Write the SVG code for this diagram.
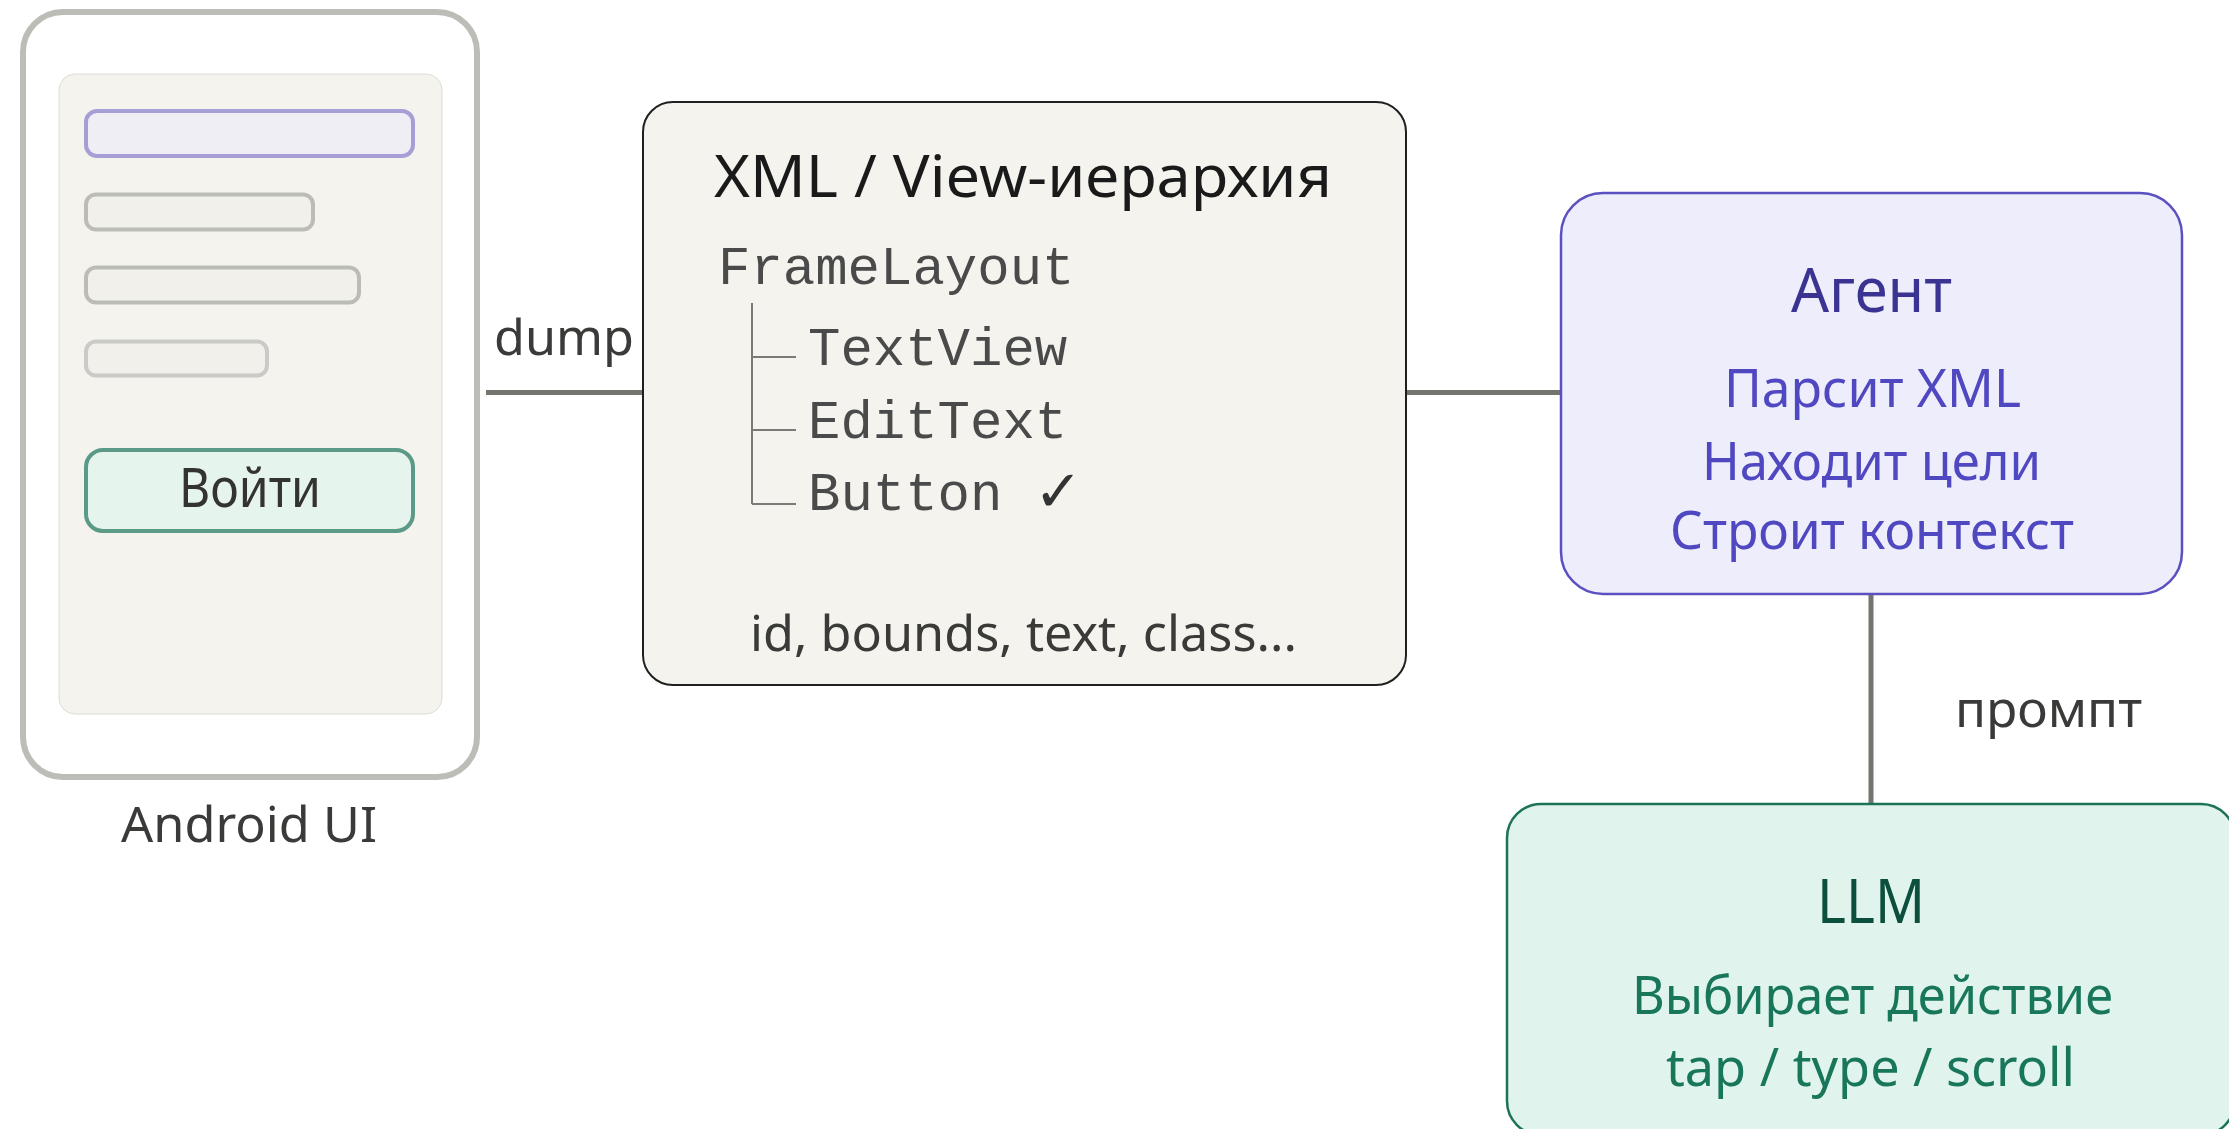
<svg xmlns="http://www.w3.org/2000/svg" width="2229" height="1129" viewBox="0 0 2229 1129">
  <style>
    .sans { font-family: "Noto Sans", "Open Sans", "DejaVu Sans", sans-serif; }
    .mono { font-family: "Courier New", "Liberation Mono", "DejaVu Sans Mono", monospace; font-size: 54px; fill: #4a4a4a; }
    .label { font-size: 50px; fill: #3a3a38; }
    .bar { fill: #f1f0ea; stroke: #bcbcb7; stroke-width: 4; }
    .wire { stroke: #75746e; stroke-width: 5; fill: none; }
    .tree { stroke: #7a7a78; stroke-width: 2; fill: none; }
  </style>

  <rect width="2229" height="1129" fill="#ffffff"/>

  <!-- connectors -->
  <g id="connectors">
    <line class="wire" x1="486" y1="392.5" x2="643" y2="392.5"/>
    <line class="wire" x1="1406" y1="392.5" x2="1561" y2="392.5"/>
    <line class="wire" x1="1871" y1="594" x2="1871" y2="804"/>
    <text class="sans label" x="494" y="355" textLength="140" lengthAdjust="spacingAndGlyphs">dump</text>
    <text class="sans label" x="1955" y="727" textLength="187" lengthAdjust="spacingAndGlyphs">промпт</text>
  </g>

  <!-- phone mock-up -->
  <g id="android-ui">
    <rect x="23" y="12" width="454" height="765" rx="40" fill="#ffffff" stroke="#bdbdb8" stroke-width="6"/>
    <rect x="59" y="74" width="383" height="640" rx="16" fill="#f4f3ee" stroke="#dcdcd5" stroke-width="1"/>
    <rect x="86" y="111" width="327" height="45" rx="11" fill="#efeef5" stroke="#a69fd6" stroke-width="4"/>
    <rect class="bar" x="86" y="194.5" width="227" height="35" rx="10"/>
    <rect class="bar" x="86" y="267.5" width="273" height="35" rx="10"/>
    <rect class="bar" x="86" y="341.5" width="181" height="34" rx="10" style="stroke:#cacac6"/>
    <rect x="86" y="450" width="327" height="81" rx="17" fill="#e6f4ee" stroke="#5a9a86" stroke-width="4"/>
    <text class="sans" x="179" y="507" font-size="54" fill="#333331" textLength="142" lengthAdjust="spacingAndGlyphs">Войти</text>
    <text class="sans label" x="121" y="842" textLength="256" lengthAdjust="spacingAndGlyphs">Android UI</text>
  </g>

  <!-- view hierarchy dump -->
  <g id="xml-hierarchy">
    <rect x="643" y="102" width="763" height="583" rx="30" fill="#f4f3ed" stroke="#1f1f1f" stroke-width="2"/>
    <text class="sans" x="714" y="197" font-size="58" fill="#1a1a1a" textLength="618" lengthAdjust="spacingAndGlyphs">XML / View-иерархия</text>
    <text class="mono" x="718" y="284">FrameLayout</text>
    <path class="tree" d="M752 303 V504 M752 357 H796 M752 430 H796 M752 504 H796"/>
    <text class="mono" x="808" y="365">TextView</text>
    <text class="mono" x="808" y="438">EditText</text>
    <text class="mono" x="808" y="510">Button</text>
    <text x="1034" y="511" font-family="DejaVu Sans, sans-serif" font-size="58" fill="#333333">✓</text>
    <text class="sans label" x="750" y="651" textLength="547" lengthAdjust="spacingAndGlyphs">id, bounds, text, class...</text>
  </g>

  <!-- agent -->
  <g id="agent">
    <rect x="1561" y="193" width="621" height="401" rx="42" fill="#ededfb" stroke="#5a50c0" stroke-width="2.5"/>
    <text class="sans" x="1791" y="312" font-size="62" fill="#3b3391" textLength="161" lengthAdjust="spacingAndGlyphs">Агент</text>
    <g class="sans" font-size="52" fill="#5048c0">
      <text x="1724" y="407" textLength="297" lengthAdjust="spacingAndGlyphs">Парсит XML</text>
      <text x="1702" y="480" textLength="339" lengthAdjust="spacingAndGlyphs">Находит цели</text>
      <text x="1670" y="549" textLength="404" lengthAdjust="spacingAndGlyphs">Строит контекст</text>
    </g>
  </g>

  <!-- language model -->
  <g id="llm">
    <rect x="1507" y="804" width="728" height="331" rx="34" fill="#e0f3ec" stroke="#1d7358" stroke-width="2.5"/>
    <text class="sans" x="1817" y="923" font-size="62" fill="#0b4f3c" textLength="108" lengthAdjust="spacingAndGlyphs">LLM</text>
    <g class="sans" font-size="52" fill="#18765a">
      <text x="1632" y="1014" textLength="481" lengthAdjust="spacingAndGlyphs">Выбирает действие</text>
      <text x="1666" y="1086" textLength="409" lengthAdjust="spacingAndGlyphs">tap / type / scroll</text>
    </g>
  </g>
</svg>
